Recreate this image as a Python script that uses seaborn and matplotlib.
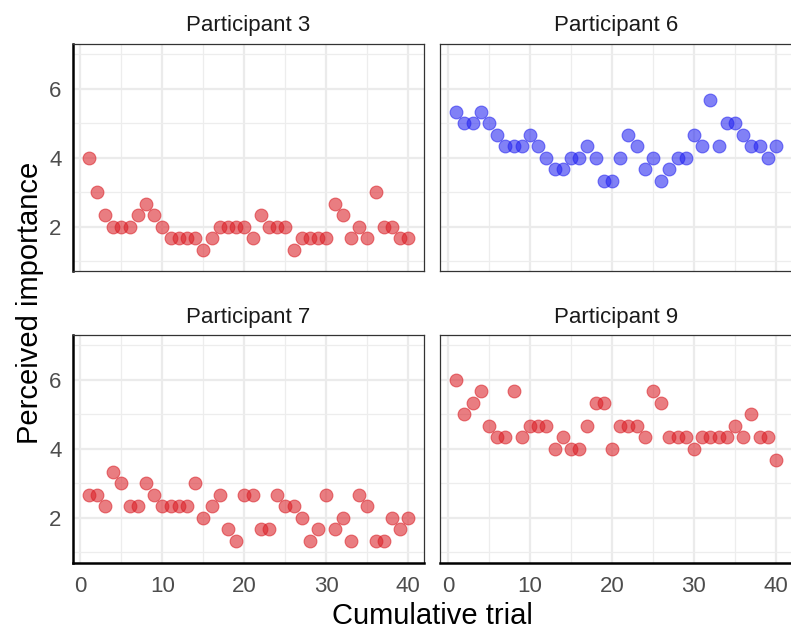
import numpy as np
import pandas as pd
import matplotlib
matplotlib.use("Agg")
import matplotlib.pyplot as plt
import seaborn as sns
from matplotlib.ticker import MultipleLocator

sns.set_theme(style="white")
plt.rcParams['font.family'] = ['Liberation Sans', 'DejaVu Sans']

trials = list(range(1, 41))
t = 1/3
p3 = [4, 3, 2+t, 2, 2, 2, 2+t, 2+2*t, 2+t, 2,
      1+2*t, 1+2*t, 1+2*t, 1+2*t, 1+t, 1+2*t, 2, 2, 2, 2,
      1+2*t, 2+t, 2, 2, 2, 1+t, 1+2*t, 1+2*t, 1+2*t, 1+2*t,
      2+2*t, 2+t, 1+2*t, 2, 1+2*t, 3, 2, 2, 1+2*t, 1+2*t]
p6 = [5+t, 5, 5, 5+t, 5, 4+2*t, 4+t, 4+t, 4+t, 4+2*t,
      4+t, 4, 3+2*t, 3+2*t, 4, 4, 4+t, 4, 3+t, 3+t,
      4, 4+2*t, 4+t, 3+2*t, 4, 3+t, 3+2*t, 4, 4, 4+2*t,
      4+t, 5+2*t, 4+t, 5, 5, 4+2*t, 4+t, 4+t, 4, 4+t]
p7 = [2+2*t, 2+2*t, 2+t, 3+t, 3, 2+t, 2+t, 3, 2+2*t, 2+t,
      2+t, 2+t, 2+t, 3, 2, 2+t, 2+2*t, 1+2*t, 1+t, 2+2*t,
      2+2*t, 1+2*t, 1+2*t, 2+2*t, 2+t, 2+t, 2, 1+t, 1+2*t, 2+2*t,
      1+2*t, 2, 1+t, 2+2*t, 2+t, 1+t, 1+t, 2, 1+2*t, 2]
p9 = [6, 5, 5+t, 5+2*t, 4+2*t, 4+t, 4+t, 5+2*t, 4+t, 4+2*t,
      4+2*t, 4+2*t, 4, 4+t, 4, 4, 4+2*t, 5+t, 5+t, 4,
      4+2*t, 4+2*t, 4+2*t, 4+t, 5+2*t, 5+t, 4+t, 4+t, 4+t, 4,
      4+t, 4+t, 4+t, 4+t, 4+2*t, 4+t, 5, 4+t, 4+t, 3+2*t]

participants = ["Participant 3", "Participant 6", "Participant 7", "Participant 9"]
series = [p3, p6, p7, p9]
colors = ["#DA2027", "#2626F0", "#DA2027", "#DA2027"]

frames = []
for name, vals in zip(participants, series):
    frames.append(pd.DataFrame({"trial": trials, "value": vals, "participant": name}))
df = pd.concat(frames, ignore_index=True)

W, H = 791, 636
fig = plt.figure(figsize=(W/100, H/100), dpi=100)

pw, ph = 351.6, 227.5
lefts = [72.7, 440.3]
tops = [44, 335]

for i, name in enumerate(participants):
    r, c = divmod(i, 2)
    x0 = lefts[c]
    y0 = tops[r]
    ax = fig.add_axes([x0/W, 1 - (y0+ph)/H, pw/W, ph/H])
    sub = df[df["participant"] == name]
    sns.scatterplot(data=sub, x="trial", y="value", ax=ax, s=85,
                    color=colors[i], alpha=0.58, edgecolor=colors[i],
                    linewidth=0.8, legend=False, zorder=3)
    ax.set_xlim(-0.95, 41.95)
    ax.set_ylim(0.7, 7.3)
    ax.xaxis.set_major_locator(MultipleLocator(10))
    ax.xaxis.set_minor_locator(MultipleLocator(5))
    ax.yaxis.set_major_locator(MultipleLocator(2))
    ax.yaxis.set_minor_locator(MultipleLocator(1))
    ax.grid(which="major", color="#EBEBEB", linewidth=1.6, zorder=0)
    ax.grid(which="minor", color="#EDEDED", linewidth=0.9, zorder=0)
    ax.set_axisbelow(True)
    for s in ax.spines.values():
        s.set_color("#333333")
        s.set_linewidth(0.9)
    ax.set_xlabel("")
    ax.set_ylabel("")
    ax.set_title(name, fontsize=16, color="#1A1A1A", pad=9)
    ax.tick_params(axis="x", which="both", length=0, pad=10,
                   labelsize=16, labelcolor="#4D4D4D")
    ax.tick_params(axis="y", which="major", length=5, width=1.1, color="black",
                   pad=3, labelsize=16, labelcolor="#4D4D4D")
    ax.tick_params(axis="y", which="minor", length=0)
    if c == 0:
        ax.spines["left"].set_color("black")
        ax.spines["left"].set_linewidth(1.8)
    else:
        ax.tick_params(axis="y", which="both", length=0, labelleft=False)
    if r == 1:
        ax.spines["bottom"].set_color("black")
        ax.spines["bottom"].set_linewidth(1.8)
    else:
        ax.tick_params(axis="x", labelbottom=False)

fig.text(432/W, 1 - 616/H, "Cumulative trial", ha="center", va="center",
         fontsize=21, color="black")
fig.text(30/W, 1 - 303/H, "Perceived importance", ha="center", va="center",
         rotation=90, fontsize=21, color="black")

fig.savefig("out.png", dpi=100)
